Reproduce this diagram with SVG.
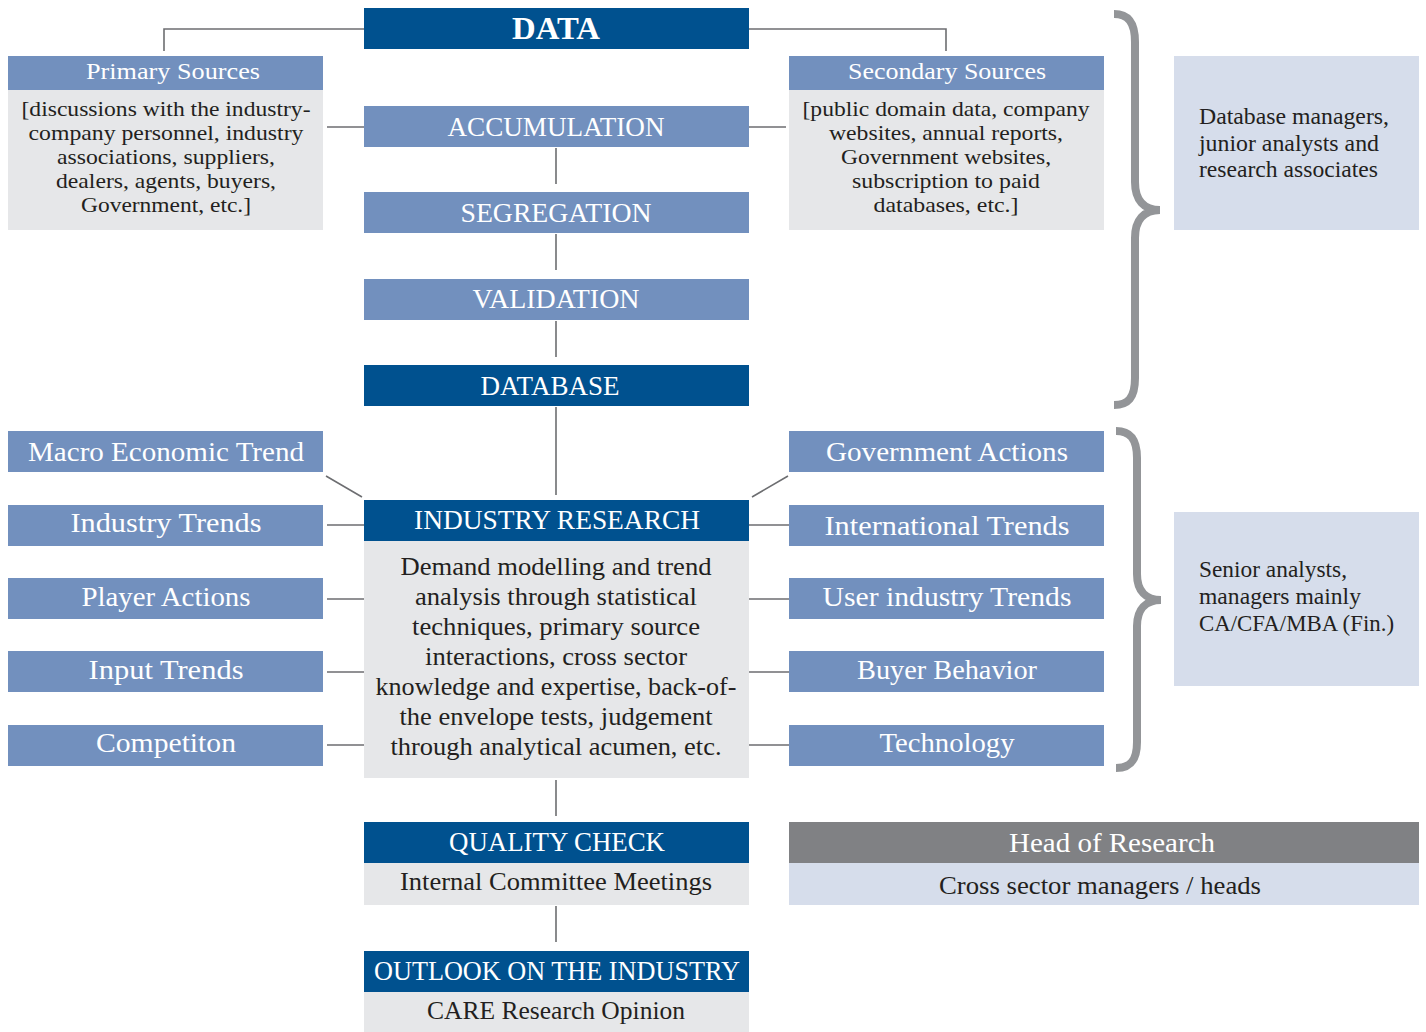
<svg xmlns="http://www.w3.org/2000/svg" width="1426" height="1032" viewBox="0 0 1426 1032">
<style>
text{font-family:"Liberation Serif","DejaVu Serif",serif;text-anchor:middle}
.dk{fill:#00518f}.md{fill:#7290be}.lg{fill:#e6e7e9}.lb{fill:#d6ddeb}.gh{fill:#808184}
.w{fill:#ffffff}.b{fill:#231f20}
.c{stroke:#6d6e71;stroke-width:1.6;fill:none}
.br{stroke:#939598;stroke-width:8;fill:none}
.l{text-anchor:start}
</style>
<rect width="1426" height="1032" fill="#ffffff"/>
<g id="connectors">
<path class="c" d="M364,29H164V51"/>
<path class="c" d="M749,29H946V51"/>
<path class="c" d="M327,127H364M749,127H786"/>
<path class="c" d="M556,148V184M556,234V270M556,321V357M556,407V495"/>
<path class="c" d="M326,476L362,497M752,497L788,476"/>
<path class="c" d="M327,525H364M327,599H364M327,672H364M327,745H364"/>
<path class="c" d="M749,525H789M749,599H789M749,672H789M749,745H789"/>
<path class="c" d="M556,780V816M556,906V942"/>
</g>
<g id="braces">
<path class="br" d="M1114,14C1128,14 1135,22 1135,42L1135,182C1135,200 1144,210 1160,210C1144,210 1135,220 1135,238L1135,378C1135,398 1128,405 1114,405"/>
<path class="br" d="M1116,431C1130,431 1137,439 1137,458L1137,574C1137,591 1146,600 1161,600C1146,600 1137,609 1137,626L1137,742C1137,761 1130,768 1116,768"/>
</g>
<g id="data"><rect class="dk" x="364" y="8" width="385" height="41"/><text class="w" x="556" y="39" font-size="31" font-weight="bold" textLength="88" lengthAdjust="spacingAndGlyphs">DATA</text></g>
<g id="primary">
<rect class="md" x="8" y="56" width="315" height="34"/>
<text class="w" x="173" y="79" font-size="24" textLength="174" lengthAdjust="spacingAndGlyphs">Primary Sources</text>
<rect class="lg" x="8" y="90" width="315" height="140"/>
<g class="b" font-size="22">
<text x="166" y="116" textLength="289" lengthAdjust="spacingAndGlyphs">[discussions with the industry-</text>
<text x="166" y="140" textLength="275" lengthAdjust="spacingAndGlyphs">company personnel, industry</text>
<text x="166" y="164" textLength="218" lengthAdjust="spacingAndGlyphs">associations, suppliers,</text>
<text x="166" y="188" textLength="220" lengthAdjust="spacingAndGlyphs">dealers, agents, buyers,</text>
<text x="166" y="212" textLength="170" lengthAdjust="spacingAndGlyphs">Government, etc.]</text>
</g>
</g>
<g id="secondary">
<rect class="md" x="789" y="56" width="315" height="34"/>
<text class="w" x="947" y="79" font-size="24" textLength="198" lengthAdjust="spacingAndGlyphs">Secondary Sources</text>
<rect class="lg" x="789" y="90" width="315" height="140"/>
<g class="b" font-size="22">
<text x="946" y="116" textLength="287" lengthAdjust="spacingAndGlyphs">[public domain data, company</text>
<text x="946" y="140" textLength="234" lengthAdjust="spacingAndGlyphs">websites, annual reports,</text>
<text x="946" y="164" textLength="210" lengthAdjust="spacingAndGlyphs">Government websites,</text>
<text x="946" y="188" textLength="188" lengthAdjust="spacingAndGlyphs">subscription to paid</text>
<text x="946" y="212" textLength="145" lengthAdjust="spacingAndGlyphs">databases, etc.]</text>
</g>
</g>
<g id="accumulation"><rect class="md" x="364" y="106" width="385" height="41"/><text class="w" x="556" y="136" font-size="28" textLength="217" lengthAdjust="spacingAndGlyphs">ACCUMULATION</text></g>
<g id="segregation"><rect class="md" x="364" y="192" width="385" height="41"/><text class="w" x="556" y="222" font-size="28" textLength="191" lengthAdjust="spacingAndGlyphs">SEGREGATION</text></g>
<g id="validation"><rect class="md" x="364" y="279" width="385" height="41"/><text class="w" x="556" y="308" font-size="28" textLength="167" lengthAdjust="spacingAndGlyphs">VALIDATION</text></g>
<g id="database"><rect class="dk" x="364" y="365" width="385" height="41"/><text class="w" x="550" y="395" font-size="28" textLength="139" lengthAdjust="spacingAndGlyphs">DATABASE</text></g>
<g id="db-managers"><rect class="lb" x="1174" y="56" width="245" height="174"/>
<g class="b" font-size="23">
<text class="l" x="1199" y="124" textLength="190" lengthAdjust="spacingAndGlyphs">Database managers,</text>
<text class="l" x="1199" y="151" textLength="180" lengthAdjust="spacingAndGlyphs">junior analysts and</text>
<text class="l" x="1199" y="177" textLength="179" lengthAdjust="spacingAndGlyphs">research associates</text>
</g></g>
<g id="macro"><rect class="md" x="8" y="431" width="315" height="41"/><text class="w" x="166" y="461" font-size="28" textLength="276" lengthAdjust="spacingAndGlyphs">Macro Economic Trend</text></g>
<g id="industry-trends"><rect class="md" x="8" y="505" width="315" height="41"/><text class="w" x="166" y="532" font-size="28" textLength="191" lengthAdjust="spacingAndGlyphs">Industry Trends</text></g>
<g id="player-actions"><rect class="md" x="8" y="578" width="315" height="41"/><text class="w" x="166" y="606" font-size="28" textLength="169" lengthAdjust="spacingAndGlyphs">Player Actions</text></g>
<g id="input-trends"><rect class="md" x="8" y="651" width="315" height="41"/><text class="w" x="166" y="679" font-size="28" textLength="155" lengthAdjust="spacingAndGlyphs">Input Trends</text></g>
<g id="competiton"><rect class="md" x="8" y="725" width="315" height="41"/><text class="w" x="166" y="752" font-size="28" textLength="140" lengthAdjust="spacingAndGlyphs">Competiton</text></g>
<g id="gov-actions"><rect class="md" x="789" y="431" width="315" height="41"/><text class="w" x="947" y="461" font-size="28" textLength="242" lengthAdjust="spacingAndGlyphs">Government Actions</text></g>
<g id="intl-trends"><rect class="md" x="789" y="505" width="315" height="41"/><text class="w" x="947" y="535" font-size="28" textLength="245" lengthAdjust="spacingAndGlyphs">International Trends</text></g>
<g id="user-trends"><rect class="md" x="789" y="578" width="315" height="41"/><text class="w" x="947" y="606" font-size="28" textLength="249" lengthAdjust="spacingAndGlyphs">User industry Trends</text></g>
<g id="buyer"><rect class="md" x="789" y="651" width="315" height="41"/><text class="w" x="947" y="679" font-size="28" textLength="180" lengthAdjust="spacingAndGlyphs">Buyer Behavior</text></g>
<g id="technology"><rect class="md" x="789" y="725" width="315" height="41"/><text class="w" x="947" y="752" font-size="28" textLength="135" lengthAdjust="spacingAndGlyphs">Technology</text></g>
<g id="industry-research">
<rect class="dk" x="364" y="500" width="385" height="41"/>
<text class="w" x="557" y="529" font-size="28" textLength="286" lengthAdjust="spacingAndGlyphs">INDUSTRY RESEARCH</text>
<rect class="lg" x="364" y="541" width="385" height="237"/>
<g class="b" font-size="25">
<text x="556" y="575" textLength="311" lengthAdjust="spacingAndGlyphs">Demand modelling and trend</text>
<text x="556" y="605" textLength="282" lengthAdjust="spacingAndGlyphs">analysis through statistical</text>
<text x="556" y="635" textLength="288" lengthAdjust="spacingAndGlyphs">techniques, primary source</text>
<text x="556" y="665" textLength="262" lengthAdjust="spacingAndGlyphs">interactions, cross sector</text>
<text x="556" y="695" textLength="361" lengthAdjust="spacingAndGlyphs">knowledge and expertise, back-of-</text>
<text x="556" y="725" textLength="313" lengthAdjust="spacingAndGlyphs">the envelope tests, judgement</text>
<text x="556" y="755" textLength="331" lengthAdjust="spacingAndGlyphs">through analytical acumen, etc.</text>
</g>
</g>
<g id="senior"><rect class="lb" x="1174" y="512" width="245" height="174"/>
<g class="b" font-size="23">
<text class="l" x="1199" y="577" textLength="148" lengthAdjust="spacingAndGlyphs">Senior analysts,</text>
<text class="l" x="1199" y="604" textLength="162" lengthAdjust="spacingAndGlyphs">managers mainly</text>
<text class="l" x="1199" y="631" textLength="195" lengthAdjust="spacingAndGlyphs">CA/CFA/MBA (Fin.)</text>
</g></g>
<g id="quality-check">
<rect class="dk" x="364" y="822" width="385" height="41"/>
<text class="w" x="557" y="851" font-size="28" textLength="216" lengthAdjust="spacingAndGlyphs">QUALITY CHECK</text>
<rect class="lg" x="364" y="863" width="385" height="42"/>
<text class="b" x="556" y="890" font-size="25" textLength="312" lengthAdjust="spacingAndGlyphs">Internal Committee Meetings</text>
</g>
<g id="outlook">
<rect class="dk" x="364" y="951" width="385" height="41"/>
<text class="w" x="557" y="980" font-size="28" textLength="366" lengthAdjust="spacingAndGlyphs">OUTLOOK ON THE INDUSTRY</text>
<rect class="lg" x="364" y="992" width="385" height="40"/>
<text class="b" x="556" y="1019" font-size="25" textLength="258" lengthAdjust="spacingAndGlyphs">CARE Research Opinion</text>
</g>
<g id="head-of-research">
<rect class="gh" x="789" y="822" width="630" height="41"/>
<text class="w" x="1112" y="852" font-size="28" textLength="206" lengthAdjust="spacingAndGlyphs">Head of Research</text>
<rect class="lb" x="789" y="863" width="630" height="42"/>
<text class="b" x="1100" y="894" font-size="25" textLength="322" lengthAdjust="spacingAndGlyphs">Cross sector managers / heads</text>
</g>
</svg>
